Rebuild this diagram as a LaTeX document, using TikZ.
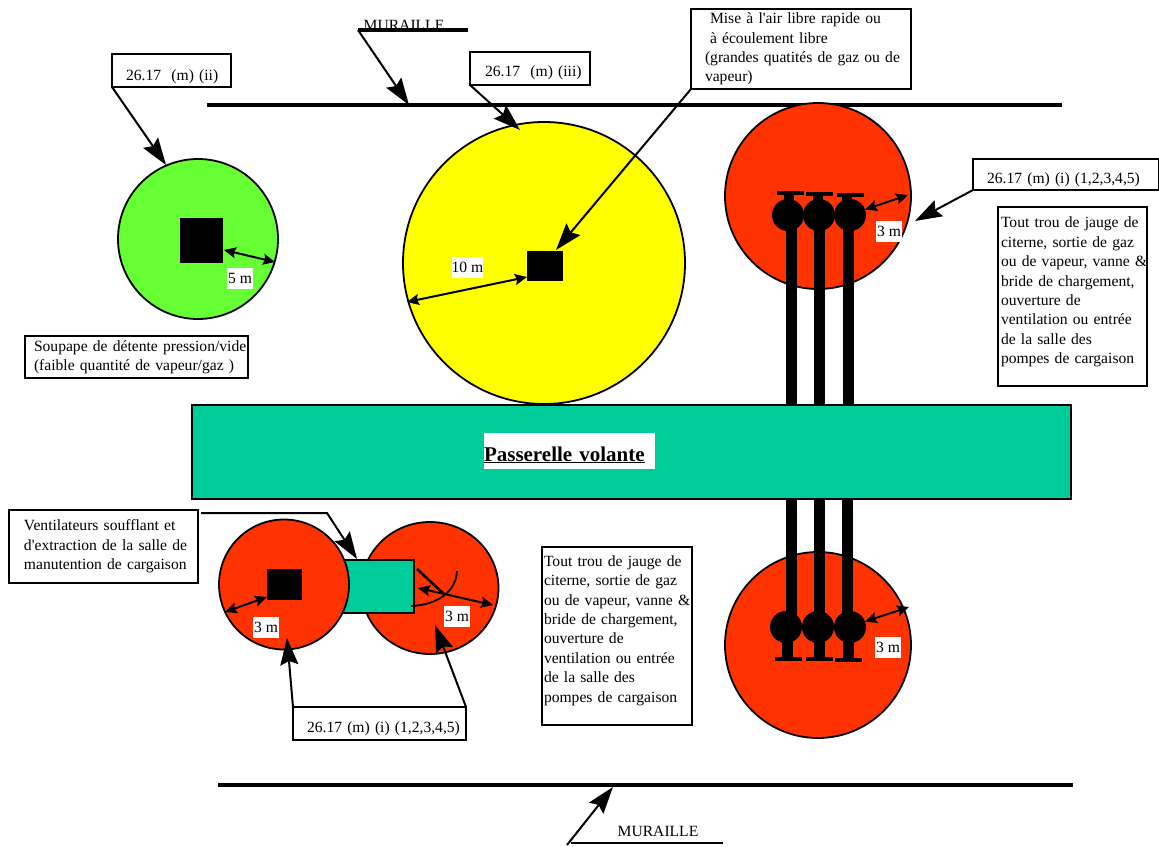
\documentclass[tikz,border=0pt]{standalone}
\usepackage{fontspec}
\usepackage{tikz}
\usetikzlibrary{arrows.meta,shapes.geometric}
\setmainfont{Liberation Serif}

\definecolor{fireRed}{RGB}{255,51,0}
\definecolor{deckGreen}{RGB}{0,204,153}
\definecolor{zoneGreen}{RGB}{102,255,51}
\definecolor{zoneYellow}{RGB}{255,255,0}

\tikzset{
    txt/.style={font=\fontsize{15.6}{19.4}\selectfont, inner sep=0pt, outer sep=0pt},
    lbox/.style={txt, draw, line width=1.8pt, fill=white, anchor=north west, align=left,
        execute at begin node={\rightskip=-30pt plus 1fil\relax}},
    dist/.style={txt, fill=white, minimum width=26pt, minimum height=21pt},
    zone/.style={circle, draw, line width=1.8pt, inner sep=0pt, outer sep=0pt},
    blk/.style={fill=black, inner sep=0pt, outer sep=0pt},
    leader/.style={line width=2pt, -{Stealth[length=27pt, width=18pt, inset=4pt]}},
    span/.style={line width=2pt, {Stealth[length=12pt, width=11pt, inset=2pt]}-{Stealth[length=12pt, width=11pt, inset=2pt]}},
    wall/.style={line width=3.2pt},
}

\begin{document}
\begin{tikzpicture}[x=1pt,y=-1pt]
    \useasboundingbox (0,0) rectangle (1159,846);
    % murailles
    \node[txt] (mtop) at (404,25.5) {MURAILLE};
    \node[txt] (mbot) at (658,831) {MURAILLE};
    \coordinate (wallAw) at (207,105);
    \coordinate (wallAe) at (1062,105);
    \coordinate (wallBw) at (218,785);
    \coordinate (wallBe) at (1073,785);
    \coordinate (capAw) at (358,30);
    \coordinate (capAe) at (468,30);
    \coordinate (capBw) at (571,843);
    \coordinate (capBe) at (723,843);
    \coordinate (capBs) at (567,845);
    \coordinate (wallAhit) at (409,105);
    \coordinate (wallBhit) at (613,787);
    \draw[wall] (wallAw) -- (wallAe);
    \draw[wall] (wallBw) -- (wallBe);
    \draw[wall] (capAw) -- (capAe);
    \draw[line width=2.4pt] (capBw) -- (capBe);
    \draw[leader] (capAw) -- (wallAhit);
    \draw[leader] (capBs) -- (wallBhit);

    % zones
    \node[zone, fill=zoneGreen, minimum size=160pt] (green) at (198,239) {};
    \node[zone, fill=zoneYellow, minimum size=282pt] (yellow) at (544,263) {};
    \node[zone, fill=fireRed, minimum size=186pt] (redA) at (818,196) {};
    \node[zone, fill=fireRed, minimum size=186pt] (redB) at (818,645) {};
    \node[zone, ellipse, fill=fireRed, minimum width=137pt, minimum height=132pt] (redD) at (430,588) {};
    \node[draw, fill=deckGreen, line width=1.8pt, minimum width=71pt, minimum height=53pt, inner sep=0pt, outer sep=0pt] (fan) at (378.5,586.5) {};
    \node[zone, fill=fireRed, minimum size=130pt] (redC) at (284,584.5) {};

    % sources
    \node[blk, minimum width=43pt, minimum height=45pt] (srcA) at (201,240.5) {};
    \node[blk, minimum width=36pt, minimum height=30pt] (srcB) at (544.5,265.5) {};
    \node[blk, minimum width=35pt, minimum height=31pt] (srcC) at (284.5,584.5) {};

    % pipes, upper group
    \foreach \n/\x/\sx/\cx/\cy in {1/791/789/790.5/193, 2/819/818/819.5/194, 3/848/847/850.5/194.5}{
        \fill (\x-5.5,215) rectangle (\x+5.5,405);
        \fill (\sx-5,\cy) rectangle (\sx+5,215);
        \fill (\cx-13.5,\cy-2) rectangle (\cx+13.5,\cy+2);
    }
    \node[circle, blk, minimum size=32pt] (valveA) at (788,215) {};
    \node[circle, blk, minimum size=32pt] (valveB) at (819,215) {};
    \node[circle, blk, minimum size=32pt] (valveC) at (850,215) {};
    % pipes, lower group
    \foreach \n/\x/\sx/\cx/\cy in {1/791.5/787.5/788.5/659, 2/819/819.5/819.5/659, 3/847.5/848.5/848.5/660}{
        \fill (\x-5.5,499) rectangle (\x+5.5,627);
        \fill (\sx-5.5,627) rectangle (\sx+5.5,\cy);
        \fill (\cx-13.5,\cy-2) rectangle (\cx+13.5,\cy+2);
    }
    \node[circle, blk, minimum size=32pt] (valveD) at (786,627) {};
    \node[circle, blk, minimum size=32pt] (valveE) at (818,627) {};
    \node[circle, blk, minimum size=32pt] (valveF) at (850,627) {};

    % passerelle
    \node[draw, fill=deckGreen, line width=1.8pt, minimum width=879pt, minimum height=94pt, inner sep=0pt, outer sep=0pt] (deck) at (631.5,452) {};
    \node[txt, fill=white, text width=171pt, text height=20pt, text depth=0pt, minimum height=36pt, font=\fontsize{21}{24}\selectfont\bfseries] (deckname) at (569.5,451) {\underline{Passerelle volante}};

    % distances
    \coordinate (gA) at (275,262);
    \coordinate (gB) at (224,250);
    \coordinate (yA) at (407,302);
    \coordinate (yB) at (527,277);
    \coordinate (rA) at (908,195);
    \coordinate (rB) at (909,607);
    \coordinate (rC) at (225,612);
    \coordinate (rCb) at (267,597);
    \coordinate (rD) at (493,605);
    \coordinate (rDa) at (418,588);
    \draw[span] (gB) -- (gA);
    \draw[span] (yA) -- (yB);
    \draw[span] (valveC.20) -- (rA);
    \draw[span] (valveF.20) -- (rB);
    \draw[span] (rC) -- (rCb);
    \draw[span] (rDa) -- (rD);
    \coordinate (hatchA) at (417,569);
    \coordinate (hatchB) at (445,595);
    \coordinate (arcA) at (457,571);
    \coordinate (arcB) at (411,606);
    \draw[line width=2.6pt] (hatchA) -- (hatchB);
    \draw[line width=1.8pt] (arcA) .. controls (456,592) and (437,605) .. (arcB);
    \node[dist] (d5) at (240,278) {5 m};
    \node[dist] (d10) at (467.5,267) {10 m};
    \node[dist] (d3a) at (889,231) {3 m};
    \node[dist] (d3b) at (888,647) {3 m};
    \node[dist] (d3c) at (266,627) {3 m};
    \node[dist] (d3d) at (457,616) {3 m};

    % labels
    \node[lbox, minimum width=119pt, minimum height=33pt, text width=119pt, text height=19pt, text depth=0pt] (ii) at (112,54) {\hspace{14pt}26.17\ \ (m) (ii)};
    \node[lbox, minimum width=120pt, minimum height=33pt, text width=120pt, text height=15pt, text depth=0pt] (iii) at (470,52) {\hspace{15pt}26.17\ \ (m) (iii)};
    \node[lbox, minimum width=220pt, minimum height=80pt, text width=220pt] (air) at (691,9) {\hspace{19pt}Mise à l\textquotesingle air libre rapide ou\\\hspace{19pt}à écoulement libre\\\hspace{14pt}(grandes quatités de gaz ou de\\\hspace{14pt}vapeur)};
    \node[lbox, minimum width=186pt, minimum height=31pt, text width=186pt, text height=17pt, text depth=0pt] (iA) at (973,159) {\hspace{14pt}26.17 (m) (i) (1,2,3,4,5)};
    \node[lbox, minimum width=149pt, minimum height=179pt, text width=149pt] (trouA) at (998,207) {\hspace{3pt}Tout trou de jauge de\\\hspace{3pt}citerne, sortie de gaz\\\hspace{3pt}ou de vapeur, vanne \&\\\hspace{3pt}bride de chargement,\\\hspace{3pt}ouverture de\\\hspace{3pt}ventilation ou entrée\\\hspace{3pt}de la salle des\\\hspace{3pt}pompes de cargaison\\[-7pt]\mbox{}};
    \node[lbox, minimum width=223pt, minimum height=42pt, text width=223pt] (vide) at (25,336) {\hspace{9pt}Soupape de détente pression/vide\\\hspace{9pt}(faible quantité de vapeur/gaz )};
    \node[lbox, minimum width=189pt, minimum height=73pt, text width=189pt] (vent) at (9,510) {\hspace{15pt}Ventilateurs soufflant et\\\hspace{15pt}d\textquotesingle extraction de la salle de\\\hspace{15pt}manutention de cargaison};
    \node[lbox, minimum width=150pt, minimum height=178pt, text width=150pt] (trouB) at (542,547) {\hspace{2pt}Tout trou de jauge de\\\hspace{2pt}citerne, sortie de gaz\\\hspace{2pt}ou de vapeur, vanne \&\\\hspace{2pt}bride de chargement,\\\hspace{2pt}ouverture de\\\hspace{2pt}ventilation ou entrée\\\hspace{2pt}de la salle des\\\hspace{2pt}pompes de cargaison\\[-5pt]\mbox{}};
    \node[lbox, minimum width=173pt, minimum height=33pt, text width=173pt, text height=17pt, text depth=0pt] (iB) at (293,707) {\hspace{14pt}26.17 (m) (i) (1,2,3,4,5)};

    % leaders
    \coordinate (ventStart) at (201,513);
    \coordinate (ventBend) at (327,513);
    \coordinate (gHit) at (166,165);
    \coordinate (yHit) at (520,130);
    \coordinate (sHit) at (556,250);
    \coordinate (rHit) at (915,221);
    \coordinate (fanHit) at (357,559);
    \coordinate (cHit) at (287,638);
    \coordinate (dHit) at (435,625);
    \draw[leader] (ii.south west) -- (gHit);
    \draw[leader] (iii.south west) -- (yHit);
    \draw[leader] (air.south west) -- (sHit);
    \draw[leader] (iA.south west) -- (rHit);
    \draw[leader] (ventStart) -- (ventBend) -- (fanHit);
    \draw[leader] (iB.north west) -- (cHit);
    \draw[leader] (iB.north east) -- (dHit);
\end{tikzpicture}
\end{document}
